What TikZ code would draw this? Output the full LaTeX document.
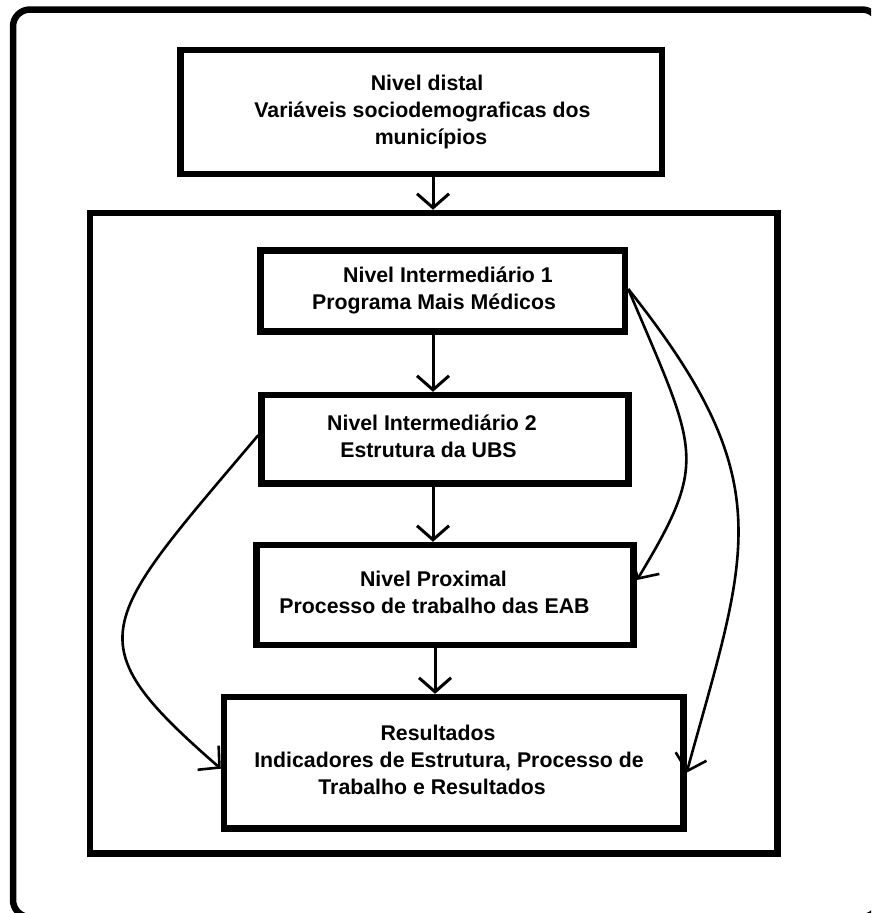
\documentclass[tikz,border=0pt]{standalone}
\usepackage{fontspec}
\setmainfont{Liberation Sans}
\usetikzlibrary{arrows.meta}
\newcommand\padx[1]{\rule{#1}{0pt}}
\newcommand\lstrut{\rule[-6pt]{0pt}{22pt}}
\begin{document}
\begin{tikzpicture}[x=1pt,y=-1pt,
  box/.style={draw, line width=6.5pt, rectangle, inner sep=0pt, align=center,
    font=\bfseries\fontsize{21.3}{27}\selectfont},
  frm/.style={draw, line width=6.5pt, rectangle, inner sep=0pt},
  conn/.style={line width=3pt, -{Straight Barb[length=14pt,width=32pt]}},
  curv/.style={line width=2.6pt, -{Straight Barb[length=15pt,width=32pt]}}
]
\path[use as bounding box] (0,0) rectangle (871,913);
\fill[white] (0,0) rectangle (871,913);
\begin{scope}
\clip (0,0) rectangle (871,913);
\node[frm, rounded corners=17pt, minimum width=866pt, minimum height=907.5pt] (frame) at (446,463.25) {};
\end{scope}
\node[frm, minimum width=687.5pt, minimum height=640.5pt] (grp) at (433.75,533.25) {};

\node[box, minimum width=481.5pt, minimum height=124pt] (distal) at (421,112)
  {\lstrut\padx{12pt}Nivel distal\\\padx{3pt}Variáveis sociodemograficas dos\\\padx{20pt}municípios\lstrut};
\node[box, minimum width=364.5pt, minimum height=81pt] (n1) at (442.75,291)
  {\lstrut\padx{10.5pt}Nivel Intermediário 1\\Programa Mais Médicos\padx{17.5pt}\lstrut};
\node[box, minimum width=366.8pt, minimum height=88.3pt] (n2) at (444.9,439.2)
  {\lstrut Nivel Intermediário 2\padx{25.8pt}\\Estrutura da UBS\padx{32.8pt}\lstrut};
\node[box, minimum width=377pt, minimum height=100pt] (n3) at (445.2,595)
  {\lstrut Nivel Proximal\padx{23.4pt}\\Processo de trabalho das EAB\padx{21.4pt}\lstrut};
\node[box, minimum width=459.3pt, minimum height=131.3pt] (n4) at (453.7,762.7)
  {\lstrut Resultados\padx{31.4pt}\\Indicadores de Estrutura, Processo de\padx{9.4pt}\\Trabalho e Resultados\padx{43.4pt}\lstrut};

\coordinate (ax) at (433,0);
\coordinate (bx) at (435,0);
\draw[conn] (distal.south -| ax) -- (grp.north -| ax);
\draw[conn] (n1.south -| ax) -- (n2.north -| ax);
\draw[conn] (n2.south -| ax) -- (n3.north -| ax);
\draw[conn] (n3.south -| bx) -- (n4.north -| bx);

\draw[curv] ([yshift=2pt]n1.east) .. controls (697,452) and (710,459) .. ([yshift=15pt]n3.east);
\draw[curv] ([yshift=2pt]n1.east) .. controls (782,482) and (748,550) .. ([yshift=-10pt]n4.east);
\draw[curv] ([yshift=4pt]n2.west) .. controls (97.6,625) and (73.4,640.4) .. ([yshift=-6pt]n4.west);
\end{tikzpicture}
\end{document}
